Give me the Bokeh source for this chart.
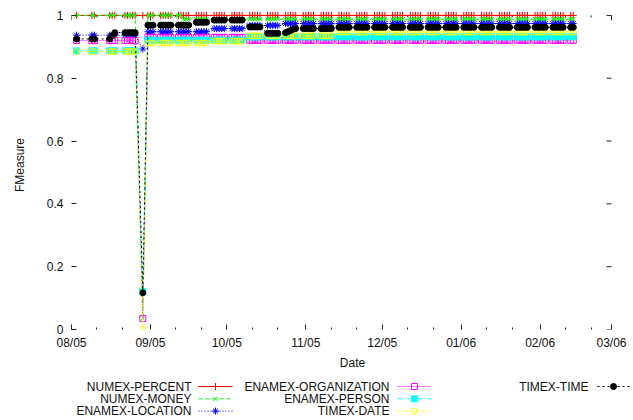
from datetime import datetime
import math
import pandas as pd
from bokeh.plotting import figure
from bokeh.models import (ColumnDataSource, DatetimeAxis, LinearAxis, FixedTicker,
                          Range1d, DatetimeTickFormatter)
from bokeh.layouts import column
from bokeh.embed import file_html
from bokeh.resources import INLINE
from bokeh.core.properties import value

# ---------------- data ----------------
DATES = [
    "2005-08-03",
    "2005-08-09", "2005-08-10",
    "2005-08-16", "2005-08-17", "2005-08-18",
    "2005-08-22", "2005-08-23", "2005-08-24", "2005-08-25", "2005-08-26",
    "2005-08-29",
    "2005-08-31", "2005-09-01", "2005-09-02",
    "2005-09-05", "2005-09-06", "2005-09-07", "2005-09-08", "2005-09-09",
    "2005-09-12", "2005-09-13", "2005-09-14", "2005-09-15", "2005-09-16",
    "2005-09-19", "2005-09-20", "2005-09-21", "2005-09-22", "2005-09-23",
    "2005-09-26", "2005-09-27", "2005-09-28", "2005-09-29", "2005-09-30",
    "2005-10-03", "2005-10-04", "2005-10-05", "2005-10-06", "2005-10-07",
    "2005-10-10", "2005-10-11", "2005-10-12", "2005-10-13", "2005-10-14",
    "2005-10-17", "2005-10-18", "2005-10-19", "2005-10-20", "2005-10-21",
    "2005-10-24", "2005-10-25", "2005-10-26", "2005-10-27", "2005-10-28",
    "2005-10-31", "2005-11-01", "2005-11-02", "2005-11-03", "2005-11-04",
    "2005-11-07", "2005-11-08", "2005-11-09", "2005-11-10", "2005-11-11",
    "2005-11-14", "2005-11-15", "2005-11-16", "2005-11-17", "2005-11-18",
    "2005-11-21", "2005-11-22", "2005-11-23", "2005-11-24", "2005-11-25",
    "2005-11-28", "2005-11-29", "2005-11-30", "2005-12-01", "2005-12-02",
    "2005-12-05", "2005-12-06", "2005-12-07", "2005-12-08", "2005-12-09",
    "2005-12-12", "2005-12-13", "2005-12-14", "2005-12-15", "2005-12-16",
    "2005-12-19", "2005-12-20", "2005-12-21", "2005-12-22", "2005-12-23",
    "2005-12-26", "2005-12-27", "2005-12-28", "2005-12-29", "2005-12-30",
    "2006-01-02", "2006-01-03", "2006-01-04", "2006-01-05", "2006-01-06",
    "2006-01-09", "2006-01-10", "2006-01-11", "2006-01-12", "2006-01-13",
    "2006-01-16", "2006-01-17", "2006-01-18", "2006-01-19", "2006-01-20",
    "2006-01-23", "2006-01-24", "2006-01-25", "2006-01-26", "2006-01-27",
    "2006-01-30", "2006-01-31", "2006-02-01", "2006-02-02", "2006-02-03",
    "2006-02-06", "2006-02-07", "2006-02-08", "2006-02-09", "2006-02-10",
    "2006-02-13", "2006-02-14",
]

NUMEX_PERCENT = [
    1.0,
    1.0, 1.0,
    1.0, 1.0, 1.0,
    1.0, 1.0, 1.0, 1.0, 1.0,
    1.0,
    1.0, 1.0, 1.0,
    1.0, 1.0, 1.0, 1.0, 1.0,
    1.0, 1.0, 1.0, 1.0, 1.0,
    1.0, 1.0, 1.0, 1.0, 1.0,
    1.0, 1.0, 1.0, 1.0, 1.0,
    1.0, 1.0, 1.0, 1.0, 1.0,
    1.0, 1.0, 1.0, 1.0, 1.0,
    1.0, 1.0, 1.0, 1.0, 1.0,
    1.0, 1.0, 1.0, 1.0, 1.0,
    1.0, 1.0, 1.0, 1.0, 1.0,
    1.0, 1.0, 1.0, 1.0, 1.0,
    1.0, 1.0, 1.0, 1.0, 1.0,
    1.0, 1.0, 1.0, 1.0, 1.0,
    1.0, 1.0, 1.0, 1.0, 1.0,
    1.0, 1.0, 1.0, 1.0, 1.0,
    1.0, 1.0, 1.0, 1.0, 1.0,
    1.0, 1.0, 1.0, 1.0, 1.0,
    1.0, 1.0, 1.0, 1.0, 1.0,
    1.0, 1.0, 1.0, 1.0, 1.0,
    1.0, 1.0, 1.0, 1.0, 1.0,
    1.0, 1.0, 1.0, 1.0, 1.0,
    1.0, 1.0, 1.0, 1.0, 1.0,
    1.0, 1.0, 1.0, 1.0, 1.0,
    1.0, 1.0, 1.0, 1.0, 1.0,
    1.0, 1.0,
]

NUMEX_MONEY = [
    1.0,
    1.0, 1.0,
    1.0, 1.0, 1.0,
    1.0, 1.0, 1.0, 1.0, 1.0,
    0.035,
    1.0, 1.0, 1.0,
    1.0, 1.0, 1.0, 1.0, 1.0,
    1.0, 1.0, 0.988, 0.988, 0.988,
    0.988, 0.988, 0.988, 0.988, 0.988,
    0.988, 0.988, 0.988, 0.988, 0.988,
    0.988, 0.988, 0.988, 0.988, 0.988,
    0.988, 0.988, 0.988, 0.988, 0.988,
    0.988, 0.988, 0.988, 0.988, 0.988,
    0.988, 0.988, 0.988, 0.988, 0.988,
    0.988, 0.988, 0.988, 0.988, 0.988,
    0.988, 0.988, 0.988, 0.988, 0.988,
    0.988, 0.988, 0.988, 0.988, 0.988,
    0.988, 0.988, 0.988, 0.988, 0.988,
    0.988, 0.988, 0.988, 0.988, 0.988,
    0.988, 0.988, 0.988, 0.988, 0.988,
    0.988, 0.988, 0.988, 0.988, 0.988,
    0.988, 0.988, 0.988, 0.988, 0.988,
    0.988, 0.988, 0.988, 0.988, 0.988,
    0.988, 0.988, 0.988, 0.988, 0.988,
    0.988, 0.988, 0.988, 0.988, 0.988,
    0.988, 0.988, 0.988, 0.988, 0.988,
    0.988, 0.988, 0.988, 0.988, 0.988,
    0.988, 0.988, 0.988, 0.988, 0.988,
    0.988, 0.988, 0.988, 0.988, 0.988,
    0.988, 0.988,
]

ENAMEX_LOCATION = [
    0.937,
    0.937, 0.937,
    0.937, 0.937, 0.937,
    0.937, 0.937, 0.937, 0.937, 0.937,
    0.893,
    0.948, 0.948, 0.948,
    0.948, 0.948, 0.948, 0.948, 0.948,
    0.948, 0.948, 0.948, 0.948, 0.948,
    0.948, 0.948, 0.948, 0.948, 0.948,
    0.958, 0.958, 0.958, 0.958, 0.958,
    0.958, 0.958, 0.958, 0.958, 0.958,
    0.968, 0.968, 0.968, 0.968, 0.968,
    0.968, 0.968, 0.968, 0.968, 0.968,
    0.974, 0.974, 0.974, 0.974, 0.974,
    0.974, 0.974, 0.974, 0.974, 0.974,
    0.974, 0.974, 0.974, 0.974, 0.974,
    0.974, 0.974, 0.974, 0.974, 0.974,
    0.974, 0.974, 0.974, 0.974, 0.974,
    0.974, 0.974, 0.974, 0.974, 0.974,
    0.974, 0.974, 0.974, 0.974, 0.974,
    0.974, 0.974, 0.974, 0.974, 0.974,
    0.974, 0.974, 0.974, 0.974, 0.974,
    0.974, 0.974, 0.974, 0.974, 0.974,
    0.974, 0.974, 0.974, 0.974, 0.974,
    0.974, 0.974, 0.974, 0.974, 0.974,
    0.974, 0.974, 0.974, 0.974, 0.974,
    0.974, 0.974, 0.974, 0.974, 0.974,
    0.974, 0.974, 0.974, 0.974, 0.974,
    0.974, 0.974, 0.974, 0.974, 0.974,
    0.974, 0.974,
]

ENAMEX_ORGANIZATION = [
    0.92,
    0.92, 0.92,
    0.92, 0.92, 0.92,
    0.92, 0.92, 0.92, 0.92, 0.92,
    0.035,
    0.93, 0.93, 0.93,
    0.93, 0.93, 0.93, 0.93, 0.93,
    0.93, 0.93, 0.93, 0.93, 0.93,
    0.93, 0.93, 0.93, 0.93, 0.93,
    0.93, 0.93, 0.93, 0.93, 0.93,
    0.93, 0.93, 0.93, 0.93, 0.93,
    0.921, 0.921, 0.921, 0.921, 0.921,
    0.921, 0.921, 0.921, 0.921, 0.921,
    0.921, 0.921, 0.921, 0.921, 0.921,
    0.921, 0.921, 0.921, 0.921, 0.921,
    0.921, 0.921, 0.921, 0.921, 0.921,
    0.921, 0.921, 0.921, 0.921, 0.921,
    0.921, 0.921, 0.921, 0.921, 0.921,
    0.921, 0.921, 0.921, 0.921, 0.921,
    0.921, 0.921, 0.921, 0.921, 0.921,
    0.921, 0.921, 0.921, 0.921, 0.921,
    0.921, 0.921, 0.921, 0.921, 0.921,
    0.921, 0.921, 0.921, 0.921, 0.921,
    0.921, 0.921, 0.921, 0.921, 0.921,
    0.921, 0.921, 0.921, 0.921, 0.921,
    0.921, 0.921, 0.921, 0.921, 0.921,
    0.921, 0.921, 0.921, 0.921, 0.921,
    0.921, 0.921, 0.921, 0.921, 0.921,
    0.921, 0.921, 0.921, 0.921, 0.921,
    0.921, 0.921,
]

ENAMEX_PERSON = [
    0.887,
    0.887, 0.887,
    0.887, 0.887, 0.887,
    0.887, 0.887, 0.887, 0.887, 0.887,
    0.12,
    0.921, 0.921, 0.921,
    0.921, 0.921, 0.921, 0.921, 0.921,
    0.921, 0.921, 0.921, 0.921, 0.921,
    0.921, 0.921, 0.921, 0.921, 0.921,
    0.921, 0.921, 0.921, 0.921, 0.921,
    0.921, 0.921, 0.921, 0.921, 0.921,
    0.932, 0.932, 0.932, 0.932, 0.932,
    0.932, 0.932, 0.932, 0.932, 0.932,
    0.932, 0.932, 0.932, 0.932, 0.932,
    0.932, 0.932, 0.932, 0.932, 0.932,
    0.932, 0.932, 0.932, 0.932, 0.932,
    0.932, 0.932, 0.932, 0.932, 0.932,
    0.932, 0.932, 0.932, 0.932, 0.932,
    0.932, 0.932, 0.932, 0.932, 0.932,
    0.932, 0.932, 0.932, 0.932, 0.932,
    0.932, 0.932, 0.932, 0.932, 0.932,
    0.932, 0.932, 0.932, 0.932, 0.932,
    0.932, 0.932, 0.932, 0.932, 0.932,
    0.932, 0.932, 0.932, 0.932, 0.932,
    0.932, 0.932, 0.932, 0.932, 0.932,
    0.932, 0.932, 0.932, 0.932, 0.932,
    0.932, 0.932, 0.932, 0.932, 0.932,
    0.932, 0.932, 0.932, 0.932, 0.932,
    0.932, 0.932, 0.932, 0.932, 0.932,
    0.932, 0.932,
]

TIMEX_DATE = [
    0.885,
    0.885, 0.885,
    0.885, 0.885, 0.885,
    0.885, 0.885, 0.885, 0.885, 0.885,
    0.0,
    0.912, 0.912, 0.912,
    0.912, 0.912, 0.912, 0.912, 0.912,
    0.912, 0.912, 0.912, 0.912, 0.912,
    0.912, 0.912, 0.912, 0.912, 0.912,
    0.918, 0.918, 0.918, 0.918, 0.918,
    0.918, 0.918, 0.918, 0.918, 0.918,
    0.935, 0.935, 0.935, 0.935, 0.935,
    0.935, 0.935, 0.935, 0.935, 0.935,
    0.935, 0.935, 0.935, 0.935, 0.935,
    0.935, 0.935, 0.935, 0.935, 0.935,
    0.935, 0.935, 0.935, 0.935, 0.935,
    0.947, 0.947, 0.947, 0.947, 0.947,
    0.947, 0.947, 0.947, 0.947, 0.947,
    0.947, 0.947, 0.947, 0.947, 0.947,
    0.947, 0.947, 0.947, 0.947, 0.947,
    0.947, 0.947, 0.947, 0.947, 0.947,
    0.947, 0.947, 0.947, 0.947, 0.947,
    0.947, 0.947, 0.947, 0.947, 0.947,
    0.947, 0.947, 0.947, 0.947, 0.947,
    0.947, 0.947, 0.947, 0.947, 0.947,
    0.947, 0.947, 0.947, 0.947, 0.947,
    0.947, 0.947, 0.947, 0.947, 0.947,
    0.947, 0.947, 0.947, 0.947, 0.947,
    0.947, 0.947, 0.947, 0.947, 0.947,
    0.947, 0.947,
]

TIMEX_TIME = [
    0.925,
    0.925, 0.925,
    0.925, 0.935, 0.945,
    0.945, 0.945, 0.945, 0.945, 0.945,
    0.117,
    0.969, 0.969, 0.969,
    0.969, 0.969, 0.969, 0.969, 0.969,
    0.969, 0.969, 0.969, 0.969, 0.969,
    0.978, 0.978, 0.978, 0.978, 0.978,
    0.985, 0.985, 0.985, 0.985, 0.985,
    0.985, 0.985, 0.985, 0.985, 0.985,
    0.963, 0.963, 0.963, 0.963, 0.963,
    0.943, 0.943, 0.943, 0.943, 0.943,
    0.945, 0.948, 0.952, 0.956, 0.958,
    0.958, 0.958, 0.958, 0.958, 0.958,
    0.958, 0.958, 0.958, 0.958, 0.958,
    0.962, 0.962, 0.962, 0.962, 0.962,
    0.962, 0.962, 0.962, 0.962, 0.962,
    0.962, 0.962, 0.962, 0.962, 0.962,
    0.962, 0.962, 0.962, 0.962, 0.962,
    0.962, 0.962, 0.962, 0.962, 0.962,
    0.962, 0.962, 0.962, 0.962, 0.962,
    0.962, 0.962, 0.962, 0.962, 0.962,
    0.962, 0.962, 0.962, 0.962, 0.962,
    0.962, 0.962, 0.962, 0.962, 0.962,
    0.962, 0.962, 0.962, 0.962, 0.962,
    0.962, 0.962, 0.962, 0.962, 0.962,
    0.962, 0.962, 0.962, 0.962, 0.962,
    0.962, 0.962, 0.962, 0.962, 0.962,
    0.962, 0.962,
]

SERIES_NAMES = ["NUMEX-PERCENT", "NUMEX-MONEY", "ENAMEX-LOCATION",
                "ENAMEX-ORGANIZATION", "ENAMEX-PERSON", "TIMEX-DATE", "TIMEX-TIME"]
SERIES_VALUES = [NUMEX_PERCENT, NUMEX_MONEY, ENAMEX_LOCATION,
                 ENAMEX_ORGANIZATION, ENAMEX_PERSON, TIMEX_DATE, TIMEX_TIME]

MONTH_TICKS = ["2005-08-01", "2005-09-01", "2005-10-01", "2005-11-01",
               "2005-12-01", "2006-01-01", "2006-02-01", "2006-03-01"]
MINOR_TICKS = ["2005-08-11", "2005-08-21", "2005-09-11", "2005-09-21",
               "2005-10-11", "2005-10-21", "2005-11-11", "2005-11-21",
               "2005-12-11", "2005-12-21", "2006-01-11", "2006-01-21",
               "2006-02-11", "2006-02-21"]
Y_TICKS = [0, 0.2, 0.4, 0.6, 0.8, 1]
Y_TICK_LABELS = ["0", "0.2", "0.4", "0.6", "0.8", "1"]

# ---------------- styles / layout ----------------
STYLES = [
    # color, dash, marker, size, filled
    ("#ff0000", "solid", "cross", 7, False),
    ("#00ff00", "4 3", "x", 6, False),
    ("#0000ff", "1 2", "asterisk", 7, False),
    ("#ff00ff", "1 1", "square", 6, False),
    ("#00ffff", "5 2 1 2", "square", 6, True),
    ("#ffff00", "3 2 1 2", "circle", 6, False),
    ("#000000", "2 3", "circle", 6, True),
]

FONT = "Liberation Sans"
TXT = "#111111"
TICK = "#222222"

W = 633
H_MAIN = 372
FRAME_L = 71          # pixel of the first month tick
FRAME_BOTTOM = 331    # pixel of y = 0
PX_Y1 = 15            # pixel of y = 1
PX_XEND = 611         # pixel of the last month tick


def ms(s):
    return (datetime.strptime(s, "%Y-%m-%d") - datetime(1970, 1, 1)).total_seconds() * 1000.0


x0_ms, x1_ms = ms(MONTH_TICKS[0]), ms(MONTH_TICKS[-1])
ms_per_px = (x1_ms - x0_ms) / (PX_XEND - FRAME_L)
x_end = x1_ms + (W - PX_XEND) * ms_per_px
y_end = FRAME_BOTTOM / (FRAME_BOTTOM - PX_Y1)

src = ColumnDataSource(dict(date=pd.to_datetime(DATES),
                            **{f"s{i}": v for i, v in enumerate(SERIES_VALUES)}))

p = figure(width=W, height=H_MAIN, output_backend="svg", toolbar_location=None,
           x_axis_type=None, y_axis_type=None,
           x_range=Range1d(x0_ms, x_end), y_range=Range1d(0, y_end),
           min_border_left=FRAME_L, min_border_right=0, min_border_top=0,
           min_border_bottom=H_MAIN - FRAME_BOTTOM)
p.outline_line_color = None
p.background_fill_color = "white"
p.border_fill_color = "white"


def style_axis(ax):
    ax.axis_line_color = None
    ax.major_tick_in = 5
    ax.major_tick_out = 0
    ax.minor_tick_in = 2
    ax.minor_tick_out = 0
    ax.major_tick_line_color = TICK
    ax.minor_tick_line_color = TICK
    ax.major_label_text_font = FONT
    ax.major_label_text_font_size = "12px"
    ax.major_label_text_color = TXT
    ax.axis_label_text_font = FONT
    ax.axis_label_text_font_size = "12px"
    ax.axis_label_text_font_style = "normal"
    ax.axis_label_text_color = TXT


fmt_keys = ["microseconds", "milliseconds", "seconds", "minsec", "minutes",
            "hourmin", "hours", "days", "months", "years"]
xfmt = DatetimeTickFormatter(**{k: "%m/%y" for k in fmt_keys})
month_ms = [ms(s) for s in MONTH_TICKS]
minor_ms = [ms(s) for s in MINOR_TICKS]

xb = DatetimeAxis(ticker=FixedTicker(ticks=month_ms, minor_ticks=minor_ms),
                  formatter=xfmt, axis_label="Date")
style_axis(xb)
xb.major_label_standoff = 6
xb.axis_label_standoff = 3
p.add_layout(xb, "below")

yl = LinearAxis(ticker=FixedTicker(ticks=Y_TICKS), axis_label="FMeasure",
                major_label_overrides=dict(zip(Y_TICKS, Y_TICK_LABELS)))
style_axis(yl)
yl.major_label_standoff = 8
yl.axis_label_standoff = 17
p.add_layout(yl, "left")

# mirrored tics (top and right), as gnuplot draws them
p.ray(x=month_ms, y=[1] * len(month_ms), length=5, length_units="screen",
      angle=-math.pi / 2, line_color=TICK, line_width=1)
p.ray(x=minor_ms, y=[1] * len(minor_ms), length=2, length_units="screen",
      angle=-math.pi / 2, line_color=TICK, line_width=1)
p.ray(x=[x1_ms] * len(Y_TICKS), y=Y_TICKS, length=5, length_units="screen",
      angle=math.pi, line_color=TICK, line_width=1)

for i, (color, dash, marker, size, filled) in enumerate(STYLES):
    p.line(x="date", y=f"s{i}", source=src, line_color=color, line_width=1,
           line_dash=dash)
    p.scatter(x="date", y=f"s{i}", source=src, marker=marker, size=size,
              line_color=color, line_width=1,
              fill_color=color if filled else None)

# ---------------- legend (gnuplot style: label, then sample) ----------------
H_LEG = 420 - H_MAIN
lg = figure(width=W, height=H_LEG, output_backend="svg", toolbar_location=None,
            x_axis_type=None, y_axis_type=None,
            x_range=Range1d(FRAME_L, W), y_range=Range1d(H_LEG, 0),
            min_border_left=FRAME_L, min_border_right=0, min_border_top=0,
            min_border_bottom=0)
lg.outline_line_color = None
lg.background_fill_color = "white"
lg.border_fill_color = "white"

COL_TEXT_RIGHT = [191, 389, 588]
COL_SAMPLE = [(198, 232, 215), (397, 431, 414), (597, 630, 613)]
ROW_Y = [14, 26.3, 38.6]

for i, name in enumerate(SERIES_NAMES):
    c, r = i // 3, i % 3
    color, dash, marker, size, filled = STYLES[i]
    y = ROW_Y[r]
    lg.text(x=[COL_TEXT_RIGHT[c]], y=[y], text=[name], text_align="right",
            text_baseline="middle", text_font=value(FONT), text_font_size="12px",
            text_color=TXT)
    sx0, sx1, sxm = COL_SAMPLE[c]
    lg.line(x=[sx0, sx1], y=[y, y], line_color=color, line_width=1, line_dash=dash)
    lg.scatter(x=[sxm], y=[y], marker=marker, size=size, line_color=color,
               line_width=1, fill_color=color if filled else None)

layout = column(p, lg, spacing=0)
open("out.html", "w").write(file_html(layout, INLINE))
